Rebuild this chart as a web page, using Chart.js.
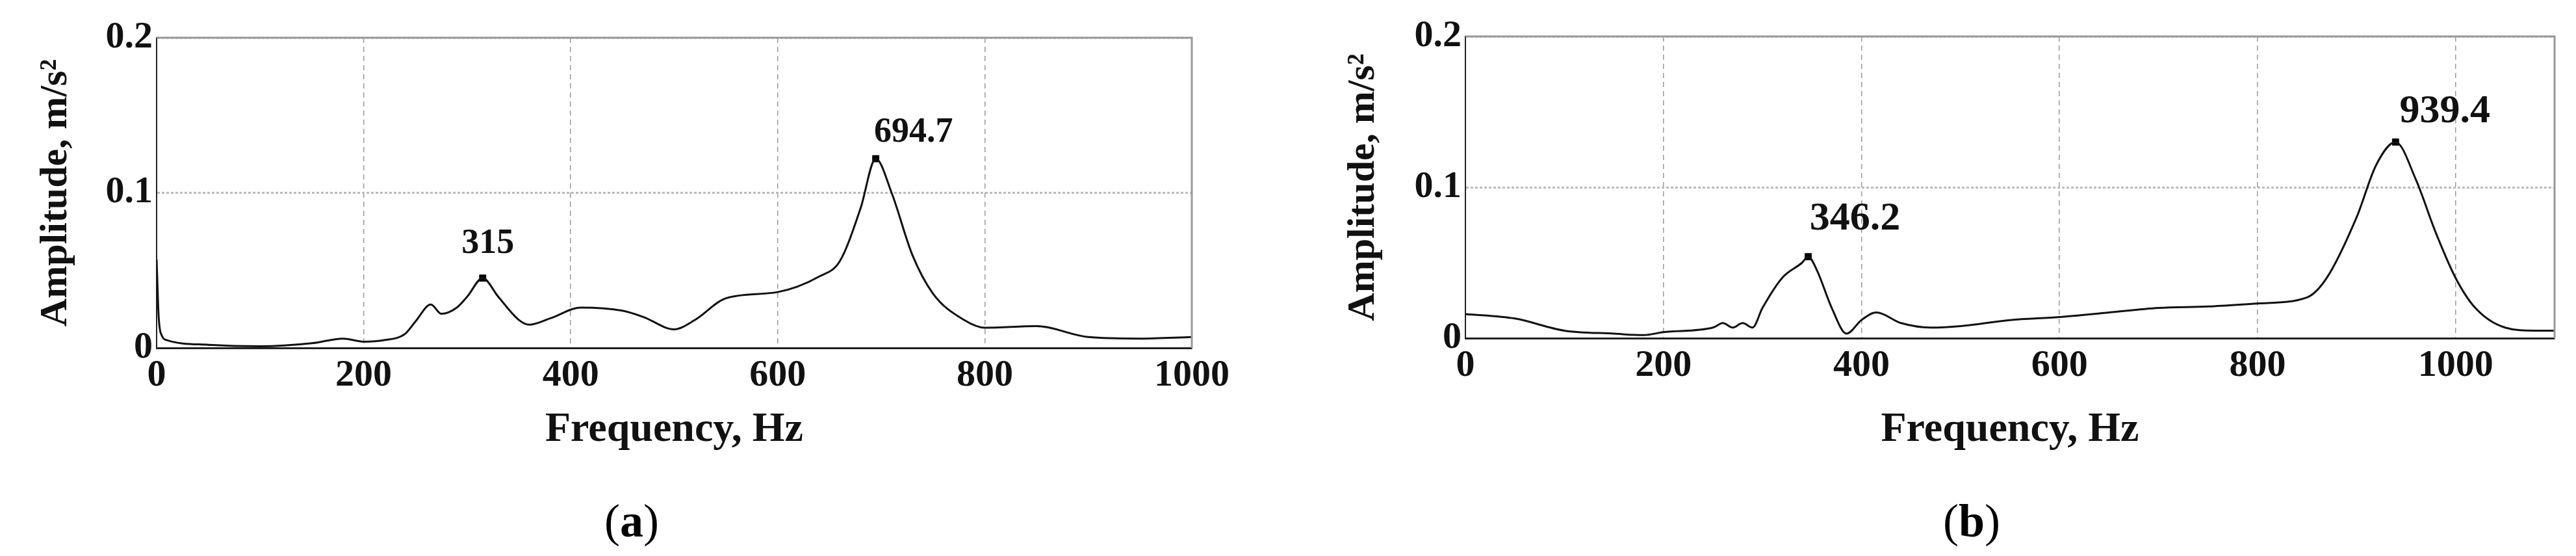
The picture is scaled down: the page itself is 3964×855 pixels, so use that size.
<!DOCTYPE html>
<html>
<head>
<meta charset="utf-8">
<script src="https://cdn.jsdelivr.net/npm/chart.js@4/dist/chart.umd.min.js"></script>
<style>
  body { margin:0; background:#fff; width:3964px; height:855px; position:relative; overflow:hidden; }
  .panel { position:absolute; top:0; height:700px; }
  .cap { position:absolute; top:760px; font:72px "Liberation Serif", serif; }
  .cap b { font-weight:bold; }
</style>
</head>
<body>
<div class="panel" style="left:0;width:1900px"><canvas id="chartA"></canvas></div>
<div class="panel" style="left:1982px;width:1982px"><canvas id="chartB"></canvas></div>
<div class="cap" style="left:930px">(<b>a</b>)</div>
<div class="cap" style="left:2990px">(<b>b</b>)</div>
<script>
'use strict';

// ── Panel (a) ──
const freqA = [0, 2, 5, 10, 50, 100, 150, 180, 200, 220, 240, 250, 265, 275, 290, 300, 315, 330, 350, 360, 380, 410, 450, 470, 500, 520, 550, 600, 640, 660, 680, 694.7, 710, 730, 750, 780, 800, 850, 900, 950, 1000];
const ampA  = [0.057, 0.02, 0.008, 0.005, 0.002, 0.001, 0.003, 0.006, 0.004, 0.005, 0.009, 0.017, 0.028, 0.022, 0.026, 0.033, 0.045, 0.033, 0.018, 0.015, 0.019, 0.026, 0.024, 0.02, 0.012, 0.018, 0.032, 0.036, 0.046, 0.056, 0.09, 0.122, 0.1, 0.06, 0.035, 0.018, 0.013, 0.014, 0.007, 0.006, 0.007];
const peaksA = [315, 694.7];
const peakAmpA = [0.045, 0.122];

// ── Panel (b) ──
const freqB = [0, 50, 100, 150, 180, 200, 250, 260, 270, 280, 290, 300, 320, 340, 346.2, 355, 370, 385, 400, 415, 440, 470, 500, 550, 600, 650, 700, 750, 800, 850, 870, 900, 920, 939.4, 960, 980, 1000, 1020, 1050, 1080, 1100];
const ampB  = [0.016, 0.013, 0.005, 0.003, 0.002, 0.004, 0.007, 0.01, 0.007, 0.01, 0.007, 0.02, 0.04, 0.05, 0.054, 0.045, 0.02, 0.003, 0.012, 0.017, 0.01, 0.007, 0.008, 0.012, 0.014, 0.017, 0.02, 0.021, 0.023, 0.027, 0.04, 0.08, 0.115, 0.13, 0.105, 0.07, 0.04, 0.02, 0.007, 0.005, 0.005];
const peaksB = [346.2, 939.4];
const peakAmpB = [0.054, 0.13];

const xTicks = [0, 200, 400, 600, 800, 1000];
const yTicks = [0, 0.1, 0.2];

const FONT = '"Liberation Serif", serif';

const peakLabels = {
    id: 'peakLabels',
    afterDatasetsDraw(chart, args, opts) {
        const { ctx } = chart;
        const meta = chart.getDatasetMeta(1);
        ctx.save();
        ctx.font = `bold ${opts.size}px ${FONT}`;
        ctx.fillStyle = '#111';
        ctx.textAlign = 'center';
        ctx.textBaseline = 'middle';
        meta.data.forEach((pt, i) => {
            const o = opts.offsets[i];
            ctx.fillText(opts.texts[i], pt.x + o[0], pt.y - o[1]);
        });
        ctx.restore();
    }
};

function makeChart(id, freq, amp, peaks, peakAmp, xMax, cfg) {
    return new Chart(document.getElementById(id), {
        type: 'line',
        data: {
            datasets: [
                { data: freq.map((f, i) => ({ x: f, y: amp[i] })), borderColor: '#111', borderWidth: 3,
                  pointRadius: 0, cubicInterpolationMode: 'monotone' },
                { data: peaks.map((f, i) => ({ x: f, y: peakAmp[i] })), showLine: false,
                  pointStyle: 'rect', pointRadius: 7, backgroundColor: '#000', borderColor: '#000' }
            ]
        },
        options: {
            responsive: true, maintainAspectRatio: false, animation: false,
            layout: { padding: { top: cfg.top, right: cfg.right } },
            plugins: {
                legend: { display: false }, tooltip: { enabled: false },
                peakLabels: { texts: peaks.map(String), offsets: cfg.offsets, size: cfg.labelSize }
            },
            scales: {
                x: {
                    type: 'linear', min: 0, max: xMax,
                    afterBuildTicks: s => { s.ticks = xTicks.map(v => ({ value: v })); },
                    afterFit: s => { s.height = cfg.xh; },
                    ticks: { color: '#111', font: { family: FONT, size: 58, weight: 'bold' }, padding: 8, maxRotation: 0,
                             callback: v => String(v) },
                    grid: { color: '#999', lineWidth: 1.5, drawTicks: false },
                    border: { color: '#222', width: 3, dash: [8, 6] },
                    title: { display: true, text: 'Frequency, Hz', color: '#111', font: { family: FONT, size: 64, weight: 'bold' }, padding: 0 }
                },
                y: {
                    min: 0, max: 0.2,
                    afterBuildTicks: s => { s.ticks = yTicks.map(v => ({ value: v })); },
                    afterFit: s => { s.width = cfg.yw; },
                    ticks: { color: '#111', font: { family: FONT, size: 58, weight: 'bold' }, padding: 6,
                             callback: v => String(v) },
                    grid: { color: '#bbb', lineWidth: 3, drawTicks: false },
                    border: { color: '#222', width: 2, dash: [4, 3] },
                    title: { display: true, text: 'Amplitude, m/s²', color: '#111', font: { family: FONT, size: 60, weight: 'bold' }, padding: { top: cfg.ytPad, bottom: 0 } }
                }
            }
        },
        plugins: [peakLabels, {
            id: 'frame',
            afterDraw(chart) {
                const { ctx, chartArea: a } = chart;
                ctx.save();
                ctx.strokeStyle = '#999';
                ctx.lineWidth = 3;
                ctx.beginPath();
                ctx.moveTo(a.left, a.top); ctx.lineTo(a.right, a.top); ctx.lineTo(a.right, a.bottom);
                ctx.stroke();
                ctx.restore();
            }
        }]
    });
}

makeChart('chartA', freqA, ampA, peaksA, peakAmpA, 1000,
    { top: 58, right: 58, xh: 165, yw: 241, ytPad: 50, labelSize: 54, offsets: [[8, 53], [58, 40]] });
makeChart('chartB', freqB, ampB, peaksB, peakAmpB, 1100,
    { top: 56, right: 33, xh: 180, yw: 273, ytPad: 80, labelSize: 62, offsets: [[72, 58], [76, 46]] });
</script>
</body>
</html>
